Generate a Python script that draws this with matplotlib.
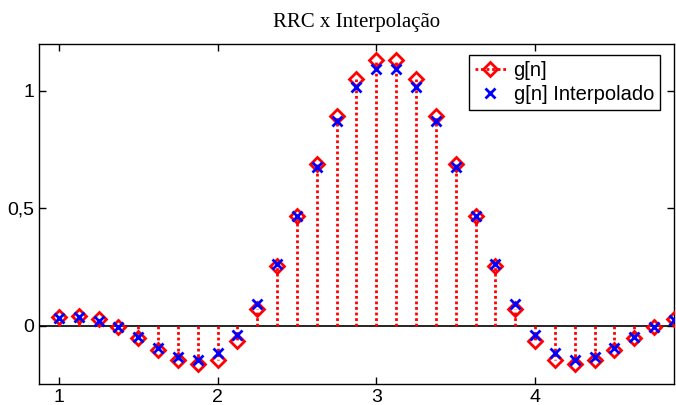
import numpy as np
import matplotlib.pyplot as plt
from matplotlib.lines import Line2D
from matplotlib.ticker import FuncFormatter

plt.rc('font', family='Liberation Sans', size=14)

# sample instants (t / T)
t = [1.0, 1.125, 1.25, 1.375, 1.5, 1.625, 1.75, 1.875,
     2.0, 2.125, 2.25, 2.375, 2.5, 2.625, 2.75, 2.875,
     3.0, 3.125, 3.25, 3.375, 3.5, 3.625, 3.75, 3.875,
     4.0, 4.125, 4.25, 4.375, 4.5, 4.625, 4.75, 4.875]

# RRC samples g[n]
g = [0.040, 0.042, 0.030, -0.003, -0.052, -0.103, -0.143, -0.163,
     -0.145, -0.065, 0.070, 0.255, 0.467, 0.688, 0.892, 1.050,
     1.130, 1.130, 1.050, 0.892, 0.688, 0.467, 0.255, 0.070,
     -0.065, -0.145, -0.163, -0.143, -0.103, -0.052, -0.003, 0.030]

# interpolated samples
g_interp = [0.033, 0.037, 0.022, -0.004, -0.047, -0.095, -0.132, -0.144,
            -0.116, -0.037, 0.092, 0.265, 0.469, 0.678, 0.873, 1.017,
            1.095, 1.095, 1.017, 0.873, 0.678, 0.469, 0.265, 0.092,
            -0.037, -0.116, -0.144, -0.132, -0.095, -0.047, -0.004, 0.026]

fig = plt.figure(figsize=(6.76, 4.05), dpi=100)
ax = fig.add_axes([0.0577, 0.0519, 0.9393, 0.8395])

ax.axhline(0, color='black', lw=1.2, zorder=1)
ax.vlines(t, 0, g, colors='red', linestyles=(0, (1, 1)), lw=2, zorder=2)
ax.plot(t, g, ls='none', marker='D', ms=7.5, mfc='none', mec='red', mew=2, zorder=3)
ax.plot(t, g_interp, ls='none', marker='x', ms=7, mec='blue', mew=2, zorder=4)

ax.set_xlim(0.875, 4.875)
ax.set_ylim(-0.247, 1.2)
ax.set_xticks([1, 2, 3, 4])
ax.set_yticks([0, 0.5, 1])
ax.yaxis.set_major_formatter(FuncFormatter(lambda v, p: ('%g' % v).replace('.', ',')))
ax.tick_params(direction='in', top=True, right=True, length=5, width=1)
for s in ax.spines.values():
    s.set_linewidth(1)

ax.set_title('RRC x Interpolação', family='Liberation Serif', fontsize=15, pad=12)

handles = [
    Line2D([], [], color='red', ls=(0, (1, 1)), lw=2, marker='D', ms=7.5, mfc='none', mec='red', mew=2),
    Line2D([], [], ls='none', marker='x', ms=7, mec='blue', mew=2),
]
leg = ax.legend(handles, ['g[n]', 'g[n] Interpolado'], loc='upper right',
                bbox_to_anchor=(0.978, 0.968), borderaxespad=0, fancybox=False,
                framealpha=1, edgecolor='black', handlelength=1.5, handletextpad=0.4,
                borderpad=0.3, labelspacing=0.25, fontsize=14.5)
leg.get_frame().set_linewidth(1)

plt.savefig('out.png')
